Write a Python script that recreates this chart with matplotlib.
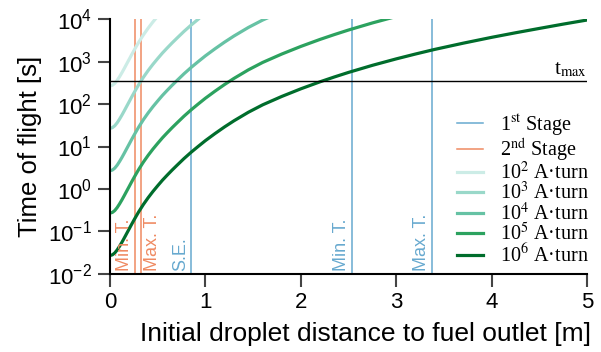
import matplotlib.pyplot as plt
from matplotlib.font_manager import FontProperties
from matplotlib.ticker import NullLocator

plt.rcParams['font.family'] = ['Liberation Sans', 'DejaVu Sans']

# Initial droplet distance to fuel outlet [m]
distance = [0, 0.025, 0.05, 0.075, 0.1, 0.125, 0.15, 0.175, 0.2, 0.225,
            0.25, 0.275, 0.3, 0.35, 0.4, 0.45, 0.5, 0.55, 0.6, 0.65,
            0.7, 0.775, 0.85, 0.925, 1.0, 1.1, 1.2, 1.3, 1.45, 1.6,
            1.8, 2.0, 2.2, 2.35, 2.5, 2.75, 3.0, 3.2, 3.4, 3.7,
            4.0, 4.25, 4.5, 4.75, 5.0]

# Time of flight [s] for each magnet strength (curves stop once above 1e4)
tof_1e2 = [269, 279, 309, 363, 443, 552, 698, 889, 1130, 1440,
           1820, 2290, 2860, 4300, 6210, 8710, 11900]
tof_1e3 = [26.9, 27.9, 30.9, 36.3, 44.3, 55.2, 69.8, 88.9, 113, 144,
           182, 229, 286, 430, 621, 871, 1190, 1610, 2120, 2770,
           3570, 5190, 7330, 10100]
tof_1e4 = [2.69, 2.79, 3.09, 3.63, 4.43, 5.52, 6.98, 8.89, 11.3, 14.4,
           18.2, 22.9, 28.6, 43.0, 62.1, 87.1, 119, 161, 212, 277,
           357, 519, 733, 1010, 1380, 2020, 2900, 4060, 6440, 9640,
           15200]
tof_1e5 = [0.269, 0.279, 0.309, 0.363, 0.443, 0.552, 0.698, 0.889, 1.13, 1.44,
           1.82, 2.29, 2.86, 4.30, 6.21, 8.71, 11.9, 16.1, 21.2, 27.7,
           35.7, 51.9, 73.3, 101, 138, 202, 290, 406, 644, 964,
           1520, 2300, 3360, 4370, 5610, 8240, 11700]
tof_1e6 = [0.0269, 0.0279, 0.0309, 0.0363, 0.0443, 0.0552, 0.0698, 0.0889, 0.113, 0.144,
           0.182, 0.229, 0.286, 0.430, 0.621, 0.871, 1.19, 1.61, 2.12, 2.77,
           3.57, 5.19, 7.33, 10.1, 13.8, 20.2, 29.0, 40.6, 64.4, 96.4,
           152, 230, 336, 437, 561, 824, 1170, 1520, 1950, 2740,
           3770, 4830, 6120, 7730, 9660]

series = [tof_1e2, tof_1e3, tof_1e4, tof_1e5, tof_1e6]
series_labels = ['10$^{2}$ A·turn', '10$^{3}$ A·turn', '10$^{4}$ A·turn',
                 '10$^{5}$ A·turn', '10$^{6}$ A·turn']
series_colors = ['#ccece6', '#99d8c9', '#66c2a4', '#2ca25f', '#006d2c']

# stage markers (positions in m)
stage1_pos = [0.847, 2.54, 3.37]
stage1_text = ['S.E.', 'Min. T.', 'Max. T.']
stage2_pos = [0.26, 0.325]
stage2_text = ['Min. T.', 'Max. T.']
t_max = 360

blue = '#67a9cf'
orange = '#ef8a62'

fig = plt.figure(figsize=(6.01, 3.52), dpi=100)
ax = fig.add_axes([0.183, 0.2224, 0.794, 0.7226])


def stage_label(x, text, color, side='left'):
    dx, ha = (-1.5, 'right') if side == 'left' else (2, 'left')
    ax.annotate(text, xy=(x, 1e-2), xytext=(dx, 2), textcoords='offset points',
                rotation=90, ha=ha, va='bottom', color=color, fontsize=13)


for i, x in enumerate(stage1_pos):
    ax.axvline(x, color=blue, lw=1.1, label='1$^{\\mathrm{st}}$ Stage' if i == 0 else None)
    stage_label(x, stage1_text[i], blue)
for i, x in enumerate(stage2_pos):
    ax.axvline(x, color=orange, lw=1.1, label='2$^{\\mathrm{nd}}$ Stage' if i == 0 else None)
    stage_label(x, stage2_text[i], orange, 'left' if i == 0 else 'right')

for vals, lab, col in zip(series, series_labels, series_colors):
    ax.plot(distance[:len(vals)], vals, color=col, lw=2.3, label=lab)

ax.axhline(t_max, color='black', lw=1.0)
ax.text(5, t_max * 1.06, 't$_{\\mathrm{max}}$', ha='right', va='bottom',
        family='Liberation Serif', math_fontfamily='stix', fontsize=15)

ax.set_yscale('log')
ax.set_xlim(0, 5)
ax.set_ylim(1e-2, 1e4)
ax.set_xticks(range(6))
ax.set_yticks([10.0 ** k for k in range(-2, 5)])
ax.yaxis.set_minor_locator(NullLocator())

for s in ['top', 'right']:
    ax.spines[s].set_visible(False)
for s in ['left', 'bottom']:
    ax.spines[s].set_linewidth(1.5)
ax.tick_params(length=9, width=1.5, color='#444', labelsize=16, pad=4)

ax.set_xlabel('Initial droplet distance to fuel outlet [m]', fontsize=19)
ax.set_ylabel('Time of flight [s]', fontsize=18.5)
ax.xaxis.set_label_coords(0.536, -0.19)

leg_font = FontProperties(family='Liberation Serif', size=14.5, math_fontfamily='stix')
ax.legend(loc='upper left', bbox_to_anchor=(0.727, 0.635), frameon=False, prop=leg_font,
          handlelength=1.3, handletextpad=0.85, labelspacing=-0.08, borderpad=0,
          borderaxespad=0)

fig.savefig('out.png', dpi=100)
